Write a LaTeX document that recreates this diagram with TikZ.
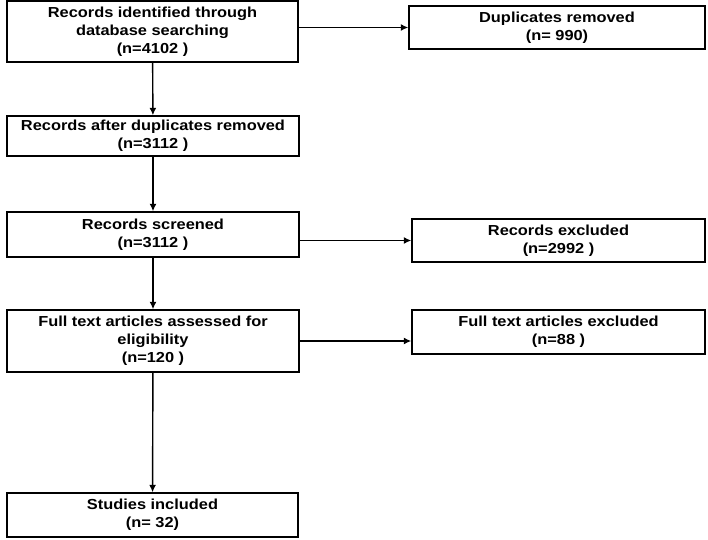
\documentclass[tikz,border=0pt]{standalone}
\usepackage{fontspec}
\setmainfont{Liberation Sans}[FakeStretch=1.13]
\usetikzlibrary{arrows.meta}
\begin{document}
\begin{tikzpicture}[x=1bp,y=-1bp,
  box/.style={draw=black, line width=1.4bp, align=center, inner sep=0pt,
    font=\fontsize{14.5bp}{18.2bp}\selectfont\bfseries, text=black},
  arr/.style={draw=black, line width=1.4bp, -{Latex[length=7.5bp,width=7bp]}}]
\useasboundingbox (0,0) rectangle (708,540);
\fill[white] (0,0) rectangle (708,540);
\node[box, minimum width=291bp, minimum height=61bp] (b1) at (152.5,31.5) {Records identified through\\database searching\\(n=4102 )};
\node[box, minimum width=292bp, minimum height=40bp] (b2) at (153,136) {Records after duplicates removed\\(n=3112 )};
\node[box, minimum width=292bp, minimum height=45bp] (b3) at (153,234.5) {Records screened\\(n=3112 )};
\node[box, minimum width=292bp, minimum height=62bp] (b4) at (153,341) {Full text articles assessed for\\eligibility\\(n=120 )};
\node[box, minimum width=291bp, minimum height=44bp] (b5) at (152.5,515) {Studies included\\(n= 32)};
\node[box, minimum width=296bp, minimum height=43bp] (dup) at (557,27.5) {Duplicates removed\\(n= 990)};
\node[box, minimum width=293bp, minimum height=43bp] (rx) at (558.5,240.5) {Records excluded\\(n=2992 )};
\node[box, minimum width=293bp, minimum height=44bp] (fx) at (558.5,332) {Full text articles excluded\\(n=88 )};
\draw[arr] (b1) -- (b2);
\draw[arr] (b2) -- (b3);
\draw[arr] (b3) -- (b4);
\draw[arr] (b4) -- (b5);
\draw[arr] (b1.east |- dup.west) -- (dup.west);
\draw[arr] (b3.east |- rx.west) -- (rx.west);
\draw[arr] (b4.east) -- (b4.east -| fx.west);
\end{tikzpicture}
\end{document}
